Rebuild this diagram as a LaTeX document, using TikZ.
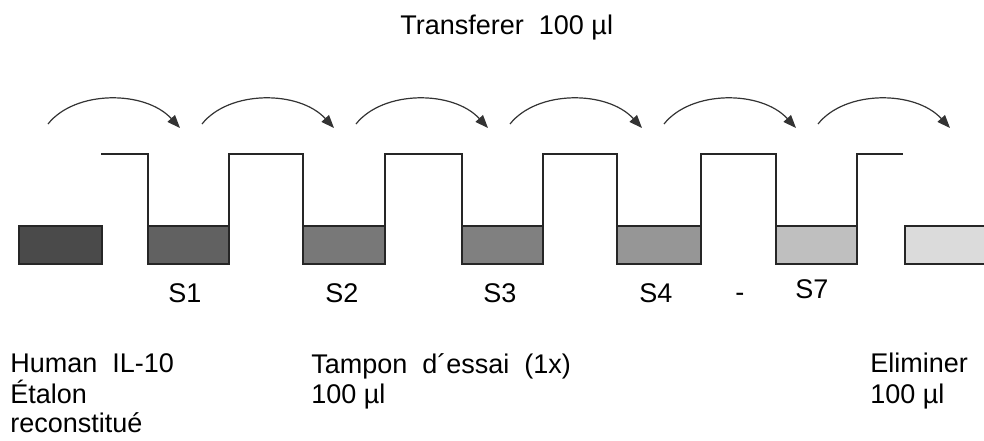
\documentclass[tikz,border=0pt]{standalone}
\usepackage{fontspec}
\setmainfont{Liberation Sans}
\usetikzlibrary{arrows.meta}

\tikzset{
  tube/.style={draw=black!85, line width=1pt},
  wall/.style={draw=black!85, line width=0.8pt},
  transfer/.style={draw=black!80, line width=0.6pt, -{Triangle[length=6.5pt,width=5pt]}},
  lbl/.style={inner sep=0pt, anchor=base west, font=\fontsize{13.5}{15.5}\selectfont}
}

\begin{document}
\begin{tikzpicture}[x=0.5pt,y=-0.5pt]
	\useasboundingbox (0,0) rectangle (984,440);

	% Title
	\node[lbl] (title) at (400,34) {Transferer\ \ 100 µl};

	% Transfer arrows
	\foreach \i in {0,...,5}{
		\coordinate (from\i) at (48+154*\i,124);
		\coordinate (to\i) at (180+154*\i,128);
		\draw[transfer] (from\i) .. controls +(27,-34) and +(-35,-38) .. (to\i);
	}

	% Walls
	\draw[wall] (101,154) -- (148,154) -- (148,226);
	\draw[wall] (229,226) -- (229,154) -- (303,154) -- (303,226);
	\draw[wall] (385,226) -- (385,154) -- (462,154) -- (462,226);
	\draw[wall] (543,226) -- (543,154) -- (617,154) -- (617,226);
	\draw[wall] (701,226) -- (701,154) -- (776,154) -- (776,226);
	\draw[wall] (857,226) -- (857,154) -- (903,154);

	% Tubes
	\draw[tube, fill=black!71] (19,226) rectangle (102,264);
	\draw[tube, fill=black!62] (148,226) rectangle (229,264);
	\draw[tube, fill=black!53] (303,226) rectangle (385,264);
	\draw[tube, fill=black!50] (462,226) rectangle (543,264);
	\draw[tube, fill=black!41] (617,226) rectangle (701,264);
	\draw[tube, fill=black!25] (776,226) rectangle (857,264);
	\draw[tube, fill=black!14] (905,226) rectangle (992,264);

	% Dilutions
	\node[lbl] (s1) at (168,302) {S1};
	\node[lbl] (s2) at (325,302) {S2};
	\node[lbl] (s3) at (483,302) {S3};
	\node[lbl] (s4) at (639,302) {S4};
	\node[lbl] (dash) at (735,301) {-};
	\node[lbl] (s7) at (795,298) {S7};

	% Standard
	\node[lbl] (std1) at (10,372) {Human\ \ IL-10};
	\node[lbl] (std2) at (10,403) {Étalon};
	\node[lbl] (std3) at (10,432) {reconstitué};

	% Buffer
	\node[lbl] (buf1) at (311,373) {Tampon\ \ d´essai\ \ (1x)};
	\node[lbl] (buf2) at (311,403) {100 µl};

	% Discard
	\node[lbl] (del1) at (870,372) {Eliminer};
	\node[lbl] (del2) at (870,403) {100 µl};
\end{tikzpicture}
\end{document}
